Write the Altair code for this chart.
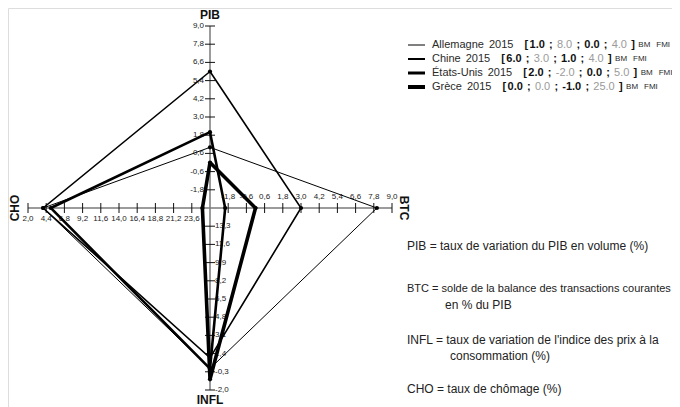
import altair as alt
import pandas as pd

# ---------------- data ----------------
axis_names = ["PIB", "BTC", "INFL", "CHO"]
axis_center_value = [-3.0, -3.0, 15.0, 26.0]   # value at the centre of the square
axis_outer_value = [9.0, 9.0, -2.0, 2.0]       # value at the outer end
axis_dir = [(0, 1), (1, 0), (0, -1), (-1, 0)]  # up, right, down, left

countries = ["Allemagne", "Chine", "États-Unis", "Grèce"]
year = "2015"
pib = [1.0, 6.0, 2.0, 0.0]
btc = [8.0, 3.0, -2.0, 0.0]
infl = [0.0, 1.0, 0.0, -1.0]
cho = [4.0, 4.0, 5.0, 25.0]
line_widths = [1.0, 1.6, 2.6, 3.6]
legend_line_widths = [1.0, 2.0, 3.0, 4.0]

n_ticks = 10

definitions = [
    ("PIB = taux de variation du PIB en volume (%)", 407, 246, 12),
    ("BTC = solde de la balance des transactions courantes", 407, 289, 11),
    ("en % du PIB", 445, 305, 12),
    ("INFL = taux de variation de l'indice des prix à la", 407, 340, 12),
    ("consommation (%)", 450, 356, 12),
    ("CHO = taux de chômage (%)", 407, 389, 12),
]

# ---------------- layout helpers ----------------
OFF = 8  # page margin
CX, CY, R = 210 - OFF, 208 - OFF, 182
XR = [CX - R, CX + R]
YR = [CY + R, CY - R]
TICK = 5.0 / R

xs = alt.Scale(domain=[-1, 1], range=XR, nice=False, zero=False)
ys = alt.Scale(domain=[-1, 1], range=YR, nice=False, zero=False)


def norm(k, v):
    return (v - axis_center_value[k]) / (axis_outer_value[k] - axis_center_value[k])


# axis lines
axis_df = pd.DataFrame([
    {"x": -1, "x2": 1, "y": 0, "y2": 0},
    {"x": 0, "x2": 0, "y": -1, "y2": 1},
])
axis_lines = alt.Chart(axis_df).mark_rule(color="#7a7a7a", strokeWidth=1.5).encode(
    x=alt.X("x:Q", scale=xs, axis=None), x2="x2:Q",
    y=alt.Y("y:Q", scale=ys, axis=None), y2="y2:Q")

# ticks and tick labels
tick_rows = []
for k in range(4):
    dx, dy = axis_dir[k]
    for i in range(1, n_ticks + 1):
        r = i / n_ticks
        v = axis_center_value[k] + r * (axis_outer_value[k] - axis_center_value[k])
        px, py = dx * r, dy * r
        tick_rows.append({
            "axis": axis_names[k],
            "x": px - abs(dy) * TICK, "x2": px + abs(dy) * TICK,
            "y": py - abs(dx) * TICK, "y2": py + abs(dx) * TICK,
            "px": px, "py": py,
            "label": f"{v:.1f}".replace(".", ","),
        })
tick_df = pd.DataFrame(tick_rows)
ticks = alt.Chart(tick_df).mark_rule(color="#111", strokeWidth=1).encode(
    x=alt.X("x:Q", scale=xs, axis=None), x2="x2:Q",
    y=alt.Y("y:Q", scale=ys, axis=None), y2="y2:Q")

label_style = dict(font="Liberation Sans", fontSize=8, color="#222")
lab_specs = {
    "PIB": dict(align="right", baseline="middle", dx=-6, dy=0),
    "BTC": dict(align="center", baseline="middle", dx=0, dy=-11),
    "INFL": dict(align="left", baseline="middle", dx=5, dy=0),
    "CHO": dict(align="center", baseline="middle", dx=0, dy=11),
}
tick_labels = []
for name, spec in lab_specs.items():
    tick_labels.append(
        alt.Chart(tick_df[tick_df["axis"] == name]).mark_text(**label_style, **spec).encode(
            x=alt.X("px:Q", scale=xs, axis=None),
            y=alt.Y("py:Q", scale=ys, axis=None),
            text="label:N"))

# series polygons
poly_rows, pt_rows = [], []
for s, c in enumerate(countries):
    vals = [pib[s], btc[s], infl[s], cho[s]]
    pts = []
    for k in range(4):
        r = norm(k, vals[k])
        pts.append((axis_dir[k][0] * r, axis_dir[k][1] * r))
    for o, (x, y) in enumerate(pts + [pts[0]]):
        poly_rows.append({"country": c, "o": o, "x": x, "y": y, "w": line_widths[s]})
    for x, y in pts:
        pt_rows.append({"country": c, "x": x, "y": y})
poly_df = pd.DataFrame(poly_rows)
pt_df = pd.DataFrame(pt_rows)

lines = alt.Chart(poly_df).mark_line(color="black", strokeJoin="miter").encode(
    x=alt.X("x:Q", scale=xs, axis=None),
    y=alt.Y("y:Q", scale=ys, axis=None),
    detail="country:N", order="o:Q",
    strokeWidth=alt.StrokeWidth("w:Q", scale=None, legend=None))
points = alt.Chart(pt_df).mark_circle(color="black", size=18, opacity=1).encode(
    x=alt.X("x:Q", scale=xs, axis=None),
    y=alt.Y("y:Q", scale=ys, axis=None))

# axis titles (pixel positions)
title_style = dict(font="Liberation Sans", fontSize=12, fontWeight="bold", color="#111")
titles = []
for txt, px, py, ang in [("PIB", 210, 15, 0), ("INFL", 210, 400, 0), ("BTC", 404, 208, 90), ("CHO", 15, 208, 270)]:
    titles.append(alt.Chart(pd.DataFrame([{"px": px - OFF, "py": py - OFF, "t": txt}])).mark_text(
        **title_style, angle=ang, align="center", baseline="middle").encode(
        x=alt.X("px:Q", scale=None), y=alt.Y("py:Q", scale=None), text="t:N"))

# legend
W_REG = {" ": 278, ".": 278, ";": 278, "-": 333, "[": 278, "]": 278, "A": 667, "l": 222, "e": 556,
         "m": 833, "a": 556, "g": 556, "n": 556, "C": 722, "h": 556, "i": 222, "É": 667, "t": 278,
         "s": 500, "U": 722, "G": 778, "r": 333, "è": 556, "c": 500, "B": 667, "M": 833, "F": 611, "I": 278}
W_BOLD = {" ": 278, ".": 278, ";": 333, "-": 333, "[": 333, "]": 333}
FS = 11


def tw(s, size, bold=False):
    t = W_BOLD if bold else W_REG
    return sum(t.get(ch, 556) for ch in s) * size / 1000.0


leg_y = [45, 59, 73, 87]
seg = {"reg": [], "bold": [], "gray": [], "small": []}
leg_lines = []
GAP = 4.2
for i, c in enumerate(countries):
    y = leg_y[i] - OFF
    leg_lines.append({"x": 408 - OFF, "x2": 425 - OFF, "y": y, "w": legend_line_widths[i]})
    x = 432.0
    seg["reg"].append({"px": x - OFF, "py": y, "t": c}); x += tw(c, FS) + 5
    seg["reg"].append({"px": x - OFF, "py": y, "t": year}); x += tw(year, FS) + 11
    seg["bold"].append({"px": x - OFF, "py": y, "t": "["}); x += tw("[", FS, True) + 1.5
    vals = [pib[i], btc[i], infl[i], cho[i]]
    for j, v in enumerate(vals):
        s = f"{v:.1f}"
        if j in (0, 2):
            seg["bold"].append({"px": x - OFF, "py": y, "t": s}); x += tw(s, FS, True) + GAP
        else:
            seg["gray"].append({"px": x - OFF, "py": y, "t": s}); x += tw(s, FS) + GAP
        if j < 3:
            seg["bold"].append({"px": x - OFF, "py": y, "t": ";"}); x += tw(";", FS, True) + GAP
    seg["bold"].append({"px": x - OFF, "py": y, "t": "]"}); x += tw("]", FS, True) + 3.5
    seg["small"].append({"px": x - OFF, "py": y, "t": "BM"}); x += tw("BM", 8) + 6
    seg["small"].append({"px": x - OFF, "py": y, "t": "FMI"})

legend_line_chart = alt.Chart(pd.DataFrame(leg_lines)).mark_rule(color="black").encode(
    x=alt.X("x:Q", scale=None), x2="x2:Q", y=alt.Y("y:Q", scale=None),
    strokeWidth=alt.StrokeWidth("w:Q", scale=None, legend=None))

seg_styles = {
    "reg": dict(fontSize=FS, color="#2a2a2a"),
    "bold": dict(fontSize=FS, color="#111", fontWeight="bold"),
    "gray": dict(fontSize=FS, color="#9a9a9a"),
    "small": dict(fontSize=8, color="#2a2a2a"),
}
legend_texts = []
for key, st in seg_styles.items():
    legend_texts.append(alt.Chart(pd.DataFrame(seg[key])).mark_text(
        font="Liberation Sans", align="left", baseline="middle", **st).encode(
        x=alt.X("px:Q", scale=None), y=alt.Y("py:Q", scale=None), text="t:N"))

def_df = pd.DataFrame([{"px": x - OFF, "py": y - OFF, "t": t, "fs": fs} for t, x, y, fs in definitions])
def_chart = alt.Chart(def_df).mark_text(font="Liberation Sans", color="#222",
                                         align="left", baseline="middle").encode(
    x=alt.X("px:Q", scale=None), y=alt.Y("py:Q", scale=None), text="t:N",
    size=alt.Size("fs:Q", scale=None, legend=None))

chart = alt.layer(
    axis_lines, ticks, *tick_labels, lines, points, *titles,
    legend_line_chart, *legend_texts, def_chart
).resolve_scale(x="independent", y="independent").properties(
    width=664, height=399, autosize=alt.AutoSizeParams(type="none"), padding=0
).configure_view(stroke=None).configure(background="white")

chart.save("out.html", embed_options={"renderer": "svg", "actions": False})
